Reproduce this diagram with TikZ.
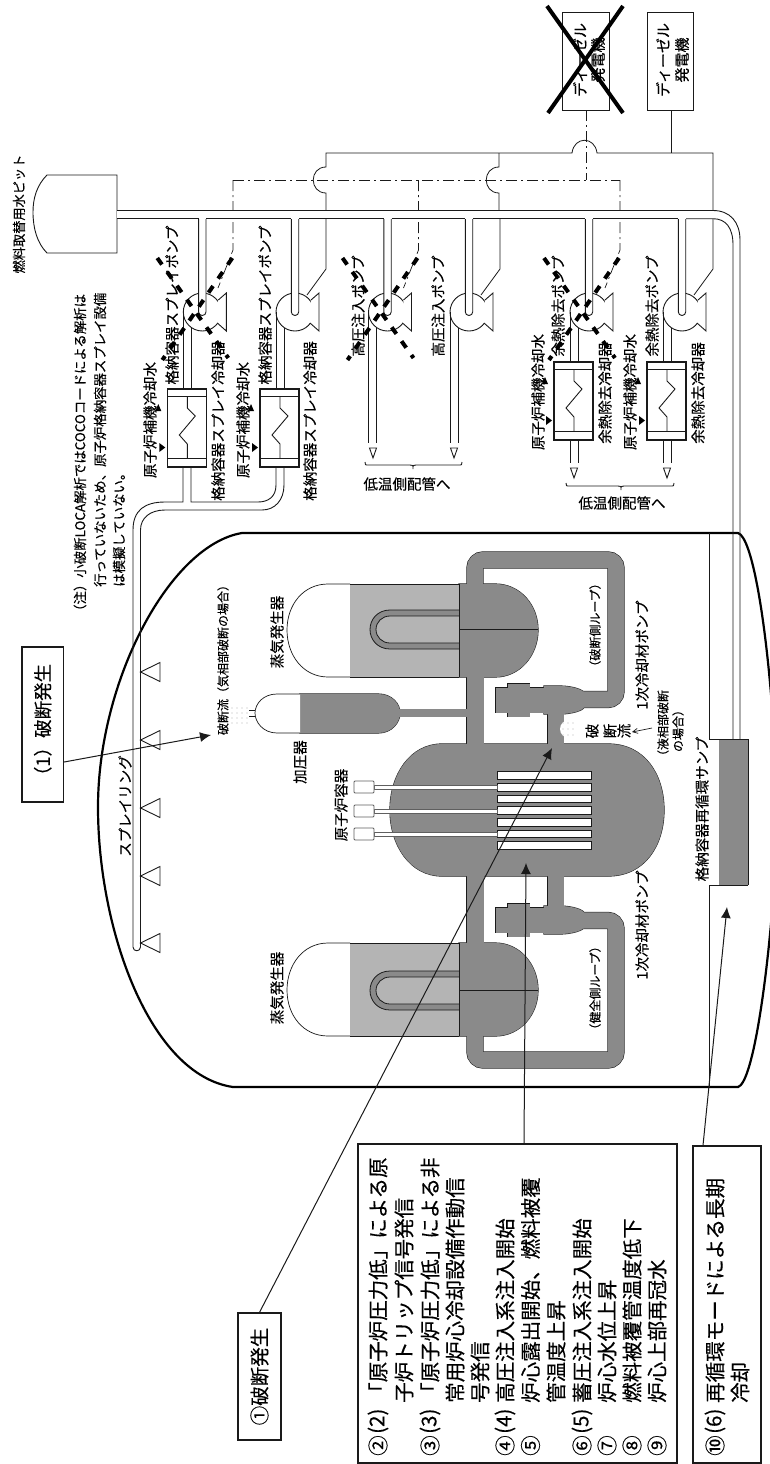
\documentclass[tikz,border=0pt]{standalone}
\usepackage{fontspec}
\setmainfont{Noto Sans CJK JP}[FakeBold=0.25]
\usetikzlibrary{arrows.meta}
\definecolor{ichiji}{HTML}{8A8A8A}
\definecolor{niji}{HTML}{B4B4B4}
\definecolor{sen}{HTML}{1A1A1A}
\newcommand{\fs}[1]{\fontsize{#1}{#1}\selectfont}
\tikzset{
  tate/.style={rotate=90,inner sep=0pt,font=\fs{14.5}},
  tateS/.style={rotate=90,inner sep=0pt,font=\fs{12}},
  midashi/.style={rotate=90,inner sep=0pt,anchor=west,font=\fs{20.5}},
  chuki/.style={rotate=90,inner sep=0pt,anchor=west,font=\fs{13.4}},
  waku/.style={draw=sen,rotate=90,line width=1.3pt,inner sep=0pt},
  haikan/.style={sen,line width=0.9pt},
  den/.style={sen,line width=0.8pt},
  seigyo/.style={sen,line width=0.7pt,dash pattern=on 11pt off 4pt on 2pt off 4pt},
  yajirushi/.style={sen,line width=1pt,-{Latex[length=11pt,width=10pt]}},
}
% pump: centre x, end of the discharge lines
\newcommand{\ponpu}[2]{%
  \draw[haikan,fill=white] (#1,312) circle (19);
  \draw[haikan,fill=white] ({#1+16},300) -- ({#1+24},293) -- ({#1+24},331) -- ({#1+15},323);
  \draw[haikan,rounded corners=3.6pt,fill=white] ({#1-3.7},219) -- ({#1-3.7},315.5) -- ({#1+3.7},315.5) -- ({#1+3.7},219);
  \draw[haikan] ({#1-19},312) -- ({#1-19},#2);
  \draw[haikan] ({#1-11},327.5) -- ({#1-11},#2);}
% cooler: centre x of the pump, top y
\newcommand{\reikyaku}[2]{%
  \draw[haikan,line width=1.1pt] ({#1-35},#2) rectangle ({#1+4},{#2+78});
  \draw[haikan] ({#1-35},{#2+7.5}) -- ({#1+4},{#2+7.5});
  \draw[haikan] ({#1-35},{#2+69.5}) -- ({#1+4},{#2+69.5});
  \draw[haikan] ({#1-15},{#2+7.5}) -- ({#1-15},{#2+19}) -- ({#1-7},{#2+27}) -- ({#1-23},{#2+46}) -- ({#1-15},{#2+55}) -- ({#1-15},{#2+69.5});
  \fill[black] ({#1-47},{#2+22}) -- ({#1-41},{#2+22}) -- ({#1-44},{#2+15}) -- cycle;
  \fill[black] ({#1-43},{#2+54}) -- ({#1-43},{#2+63}) -- ({#1-37},{#2+58.5}) -- cycle;}
% cross of thick dashes
\newcommand{\batsu}[1]{%
  \draw[black,line width=4pt,dash pattern=on 8pt off 9pt] ({#1+30},258) -- ({#1-40},360);
  \draw[black,line width=4pt,dash pattern=on 8pt off 9pt] ({#1-45},258) -- ({#1+26},358);}
% open arrow at the end of two lines
\newcommand{\sankaku}[2]{%
  \draw[haikan,fill=white] ({#1-3.5},#2) -- ({#1+3.5},#2) -- (#1,{#2+10}) -- cycle;}
\newcommand{\kakko}[4]{%
  \draw[haikan] (#1,{#4-3}) .. controls (#1,#4) .. ({#1+4},#4) -- ({#2-3},#4) .. controls (#2,#4) .. (#2,{#4+4})
    .. controls (#2,#4) .. ({#2+3},#4) -- ({#3-4},#4) .. controls (#3,#4) .. (#3,{#4-3});}
% primary circuit, once for the outline and once for the fill
\newcommand{\ichijikei}[2]{%
  \foreach \s in {1,-1} {
    \begin{scope}[shift={(0,810)},yscale=\s]
      \draw[#1,line width=16pt+#2,rounded corners=8pt] (475,-226) -- (475,-250) -- (616,-250) -- (616,-110.5) -- (583,-110.5);
      \path[fill=#1,draw=#1,line width=#2] (467,-133) rectangle (483,-66);
      \path[fill=#1,draw=#1,line width=#2] (459,-226) -- (495,-226) .. controls (520,-226) and (538,-205) .. (538,-180)
        .. controls (538,-155) and (520,-133) .. (495,-133) -- (459,-133) -- cycle;
      \path[fill=#1,draw=#1,line width=#2] (544,-124) -- (560,-124) .. controls (572,-124) and (584,-120) .. (584,-117)
        -- (584,-103) .. controls (584,-100) and (572,-96) .. (560,-96) -- (544,-96) -- cycle;
      \path[fill=#1,draw=#1,line width=#2] (496,-122) rectangle (544,-98);
      \path[fill=#1,draw=#1,line width=#2] (508,-126) rectangle (529,-94);
      \path[fill=#1,draw=#1,line width=#2] (548,-96) rectangle (563,-66);
    \end{scope}
  }
  \begin{scope}[shift={(0,810)}]
    \path[fill=#1,draw=#1,line width=#2] (442,-66) -- (608,-66) .. controls (645,-66) and (664,-35) .. (664,0)
      .. controls (664,35) and (645,66) .. (608,66) -- (442,66) .. controls (410,66) and (390,35) .. (390,0)
      .. controls (390,-35) and (410,-66) .. (442,-66) -- cycle;
    \path[fill=#1,draw=#1,line width=#2] (300,-116) -- (378,-116) .. controls (392,-116) and (400,-106) .. (400,-97)
      .. controls (400,-88) and (392,-77) .. (378,-77) -- (300,-77) -- cycle;
    \path[fill=#1,draw=#1,line width=#2] (399,-100.5) rectangle (467,-94);
  \end{scope}}

\begin{document}
\begin{tikzpicture}[x=1pt,y=-1pt]
  \clip (0,0) rectangle (770,1464);
  \fill[white] (0,0) rectangle (770,1464);
  % containment
  \draw[black,line width=2.2pt] (242,533) -- (738,533) .. controls (752,537) and (766,620) .. (773,720) -- (773,900)
    .. controls (766,990) and (752,1083) .. (738,1087) -- (233,1087) .. controls (150,1075) and (98,930) .. (98,807)
    .. controls (98,680) and (170,545) .. (242,533) -- cycle;
  \draw[haikan] (709,533) -- (709,739) -- (748,739);
  \draw[haikan] (748,885) -- (709,885) -- (709,1087);
  \fill[ichiji] (719,739.5) rectangle (748,885);
  \draw[haikan] (748,739) -- (748,885);
  % control lines under the pipes
  \draw[seigyo] (586,110) -- (586,180);
  \draw[seigyo] (233,180) -- (620,180);
  \foreach \x in {202,387.5,589}
    \draw[seigyo] ({\x+31},180) -- ({\x+31},250) -- ({\x+16},288);
  % power lines
  \draw[den] (671,110) -- (671,153);
  \draw[den] (326,210) -- (326,193) .. controls (309,193) and (309,167) .. (326,167) -- (326,153) -- (572,153)
    .. controls (574,136) and (595,136) .. (597,153) -- (713,153) -- (713,210);
  \draw[den] (499,153) -- (499,167) .. controls (482,167) and (482,193) .. (499,193) -- (499,210);
  \foreach \x in {295,469,682}
    \draw[den] ({\x+31},219) -- ({\x+31},269) -- ({\x+12},295);
  % tank and main line
  \draw[haikan,fill=white] (117,175) -- (47,175) .. controls (37,185) and (33,198) .. (33,212)
    .. controls (33,228) and (37,243) .. (47,253) -- (117,253) -- cycle;
  \node[inner sep=0pt,rotate=90,font=\fs{13.2}] (pit) at (19,214) {燃料取替用水ピット};
  \fill[white] (117,210.5) rectangle (713,218.7);
  \draw[haikan] (117,210.5) -- (713,210.5) .. controls (730,210.5) and (740,222) .. (740,240) -- (740,739);
  \foreach \a/\b in {117/198.5,206/291,299/383.5,391.5/465,473/585,593/678}
    \draw[haikan] (\a,218.7) -- (\b,218.7);
  \draw[haikan] (686,218.7) -- (713,218.7) .. controls (726,218.7) and (733,228) .. (733,245) -- (733,739);
  % pumps and coolers
  \ponpu{202.3}{389}
  \ponpu{295}{389}
  \ponpu{387.5}{443}
  \ponpu{469}{443}
  \ponpu{589}{362}
  \ponpu{682}{362}
  \reikyaku{202.3}{389}
  \reikyaku{295}{389}
  \reikyaku{589}{362}
  \reikyaku{682}{362}
  \sankaku{373}{448}
  \sankaku{454}{448}
  \foreach \x in {570,578,663,671} \draw[haikan] (\x,440) -- (\x,463);
  \sankaku{574}{468}
  \sankaku{667}{468}
  \kakko{365}{413}{462}{465}
  \kakko{566}{621}{674}{486}
  % spray ring
  \draw[haikan] (183,467) -- (183,502) -- (165,502) .. controls (145,502) and (133,510) .. (133,530) -- (133,947)
    .. controls (133,952) and (140.5,952) .. (140.5,947) -- (140.5,530) .. controls (140.5,518) and (150,510) .. (165,510)
    -- (262,510) .. controls (275,510) and (284,500) .. (284,485) -- (284,467);
  \draw[haikan] (191,467) -- (191,502) -- (258,502) .. controls (268,502) and (276,497) .. (276,485) -- (276,467);
  \foreach \y in {672,740,808,876,943}
    \draw[haikan] (140.5,\y) -- (160,{\y-9.5}) -- (160,{\y+9.5}) -- cycle;
  % generators
  \node[draw=sen,line width=1pt,minimum width=47pt,minimum height=97pt] (dgA) at (585.5,61.5) {};
  \node[draw=sen,line width=1pt,minimum width=46pt,minimum height=97pt] (dgB) at (670,61.5) {};
  \foreach \x/\y/\t [count=\n] in {580/60/ディーゼル,598/60/発電機,663/60/ディーゼル,682/60/発電機}
    \node[tate,font=\fs{15}] (dgt\n) at (\x,\y) {\t};
  \draw[black,line width=4pt] (547,6) -- (623,113);
  \draw[black,line width=4pt] (623,6) -- (548,113);
  % primary circuit
  \ichijikei{sen}{1.2pt}
  \ichijikei{ichiji}{0.1pt}
  \foreach \s in {1,-1} {
    \begin{scope}[shift={(0,810)},yscale=\s]
      \draw[sen,line width=0.7pt,fill=white] (350,-226) -- (328,-226) .. controls (303,-226) and (287,-205) .. (287,-180)
        .. controls (287,-155) and (303,-133) .. (328,-133) -- (350,-133);
      \fill[niji] (350,-226) rectangle (459,-133);
      \draw[sen,line width=0.7pt] (350,-226) -- (459,-226);
      \draw[sen,line width=0.7pt] (350,-133) -- (459,-133);
      \draw[sen,line width=0.8pt,fill=ichiji] (459,-200) -- (390,-200) .. controls (378,-200) and (370,-191) .. (370,-180.5)
        .. controls (370,-170) and (378,-161) .. (390,-161) -- (459,-161);
      \draw[sen,line width=0.8pt,fill=niji] (459,-194) -- (390,-194) .. controls (382,-194) and (376,-188) .. (376,-180.5)
        .. controls (376,-173) and (382,-167) .. (390,-167) -- (459,-167);
      \draw[sen,line width=0.8pt] (459,-226) -- (459,-133);
      \draw[sen,line width=0.8pt] (459,-180.5) -- (538,-180.5);
    \end{scope}
  }
  % pressurizer top
  \draw[sen,line width=0.7pt,fill=white] (300,694) -- (277,694) .. controls (263,694) and (255,704) .. (255,713)
    .. controls (255,722) and (263,733) .. (277,733) -- (300,733);
  \draw[sen,line width=0.7pt] (255,710) -- (249,710) (255,716) -- (249,716);
  \foreach \x in {232,237,242,247} \foreach \y in {708,713,718,723}
    \fill[gray!60] (\x,\y) circle (0.6);
  % fuel and rods
  \foreach \i in {-3,...,3}
    \draw[sen,line width=0.7pt,fill=white] (497,{810.5+\i*11.7-3.8}) rectangle (591,{810.5+\i*11.7+3.8});
  \foreach \y in {787,811,834} {
    \draw[sen!70,line width=0.7pt,fill=white] (374,{\y-2}) rectangle (497,{\y+2});
    \draw[sen!70,line width=0.8pt,fill=white,rounded corners=1pt] (354,{\y-6}) rectangle (374,{\y+6});
  }
  % break point
  \fill[white] (569,729) circle (9);
  \foreach \x in {563,568,573} \foreach \y in {723,729,735}
    \fill[gray!60] (\x,\y) circle (0.6);
  \draw[sen,line width=0.7pt,-{Straight Barb[length=5pt,width=5pt]}] (652,728) -- (632,732);
  % labels
  \foreach \x/\y/\t [count=\n] in {172/305/格納容器スプレイポンプ,265/305/格納容器スプレイポンプ,
      358/306/高圧注入ポンプ,438/306/高圧注入ポンプ,558/306/余熱除去ポンプ,652/306/余熱除去ポンプ,
      150/420/原子炉補機冷却水,243/420/原子炉補機冷却水,538/392/原子炉補機冷却水,630/392/原子炉補機冷却水,
      218/421/格納容器スプレイ冷却器,310/421/格納容器スプレイ冷却器,605/393/余熱除去冷却器,698/393/余熱除去冷却器,
      277/632/蒸気発生器,277/988/蒸気発生器,300/762/加圧器,341/805/原子炉容器,
      642/655/1次冷却材ポンプ,642/925/1次冷却材ポンプ,702/809/格納容器再循環サンプ,125/806/スプレイリング,
      592/731/破,610/731/断,624/731/流}
    \node[tate] (lab\n) at (\x,\y) {\t};
  \foreach \x/\y/\t [count=\n] in {223/657/破断流（気相部破断の場合）,595/625/（破断側ループ）,595/988/（健全側ループ）,
      663/726/（液相部破断,678/728/の場合）}
    \node[tateS] (sub\n) at (\x,\y) {\t};
  \node[inner sep=0pt,font=\fs{14.5}] (teionA) at (407,484) {低温側配管へ};
  \node[inner sep=0pt,font=\fs{14.5}] (teionB) at (622,503) {低温側配管へ};
  % note
  \node[chuki] (chu1) at (80,618) {（注）小破断LOCA解析ではCOCOコードによる解析は};
  \node[chuki] (chu2) at (100,587) {行っていないため、原子炉格納容器スプレイ設備};
  \node[chuki] (chu3) at (119,587) {は模擬していない。};
  % crosses over the text
  \batsu{202.3}
  \batsu{387.5}
  \batsu{589}
  % boxes
  \node[waku,minimum width=155pt,minimum height=41.5pt,font=\fs{18.5}] (hasan) at (42.75,724.5) {（1）破断発生};
  \node[waku,minimum width=127pt,minimum height=43pt,font=\fs{19.5}] (hasanB) at (259.5,1376.5) {①破断発生};
  \node[waku,minimum width=319pt,minimum height=319pt] (kekka) at (517.5,1303.5) {};
  \node[waku,minimum width=317pt,minimum height=68pt] (choki) at (727,1304.5) {};
  \foreach \x/\m/\k/\t [count=\n] in {378/②/(2)/「原子炉圧力低」による原,404///子炉トリップ信号発信,
      430/③/(3)/「原子炉圧力低」による非,455///常用炉心冷却設備作動信,480///号発信,
      505/④/(4)/高圧注入系注入開始,530.5/⑤//炉心露出開始、燃料被覆,556///管温度上昇,
      582/⑥/(5)/蓄圧注入系注入開始,607/⑦//炉心水位上昇,632/⑧//燃料被覆管温度低下,657/⑨//炉心上部再冠水,
      715/⑩/(6)/再循環モードによる長期,740///冷却} {
    \node[midashi] (gyo\n) at (\x,1403) {\t};
    \node[midashi] (ban\n) at (\x,1456) {\m};
    \node[midashi] (kak\n) at (\x,1434) {\k};
  }
  % arrows
  \coordinate (kiso) at (211,735);
  \coordinate (ekiso) at (552,748);
  \coordinate (ro) at (526,863);
  \coordinate (sump) at (727,907);
  \draw[yajirushi] ([yshift=-37.5pt]hasan.south) -- (kiso);
  \draw[yajirushi] (hasanB.east) -- (ekiso);
  \draw[yajirushi] ([xshift=6.5pt]kekka.east) -- (ro);
  \draw[yajirushi] ([xshift=-24pt]choki.east) -- (sump);
\end{tikzpicture}
\end{document}
